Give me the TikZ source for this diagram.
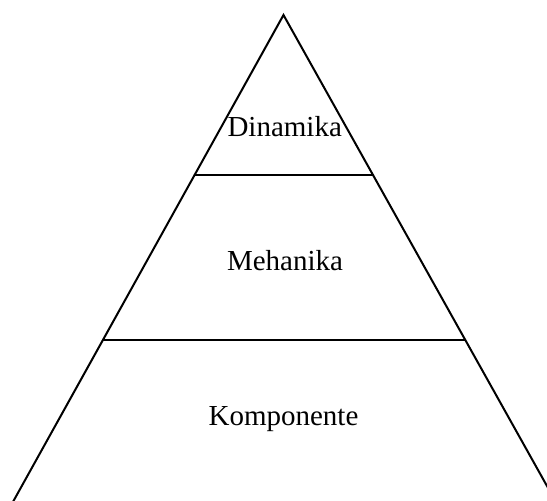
\documentclass[tikz,border=0pt]{standalone}
\usepackage{fontspec}
\setmainfont{Liberation Serif}
\begin{document}
\begin{tikzpicture}[x=1pt,y=-1pt,
  edge/.style={line width=2pt, line cap=round, line join=miter},
  lbl/.style={anchor=base, inner sep=0pt, font=\fontsize{29}{32}\selectfont}]
\useasboundingbox (0,0) rectangle (547,501);
\clip (0,0) rectangle (547,501);
\coordinate (apex) at (283.5,15);
\coordinate (bl) at (2.9,520);
\coordinate (br) at (566,520);
\coordinate (l1) at (194.6,175);
\coordinate (r1) at (373.1,175);
\coordinate (l2) at (103.3,339.5);
\coordinate (r2) at (465,339.5);
\draw[edge] (bl) -- (apex) -- (br);
\draw[edge] (l1) -- (r1);
\draw[edge] (l2) -- (r2);
\node[lbl] (dyn) at (284.7,136.7) {Dinamika};
\node[lbl] (meh) at (285,270) {Mehanika};
\node[lbl] (komp) at (283.5,425) {Komponente};
\end{tikzpicture}
\end{document}
